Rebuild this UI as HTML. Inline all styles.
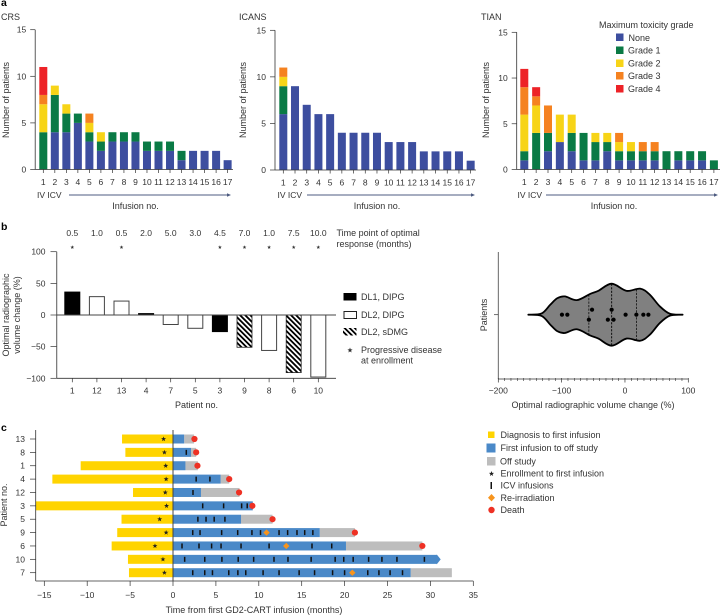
<!DOCTYPE html>
<html lang="en">
<head>
<meta charset="utf-8">
<title>GD2-CART clinical outcomes</title>
<style>
html,body{margin:0;padding:0;background:#fff;}
svg{display:block;font-family:"Liberation Sans",Arial,sans-serif;fill:#333;}
text{font-size:9px;}
.panel{font-weight:bold;font-size:10.5px;fill:#000;}
.tick{font-size:8.5px;}
.ivicv{font-size:8.5px;}
</style>
</head>
<body>
<svg id="fig" xmlns="http://www.w3.org/2000/svg" width="722" height="615" viewBox="0 0 722 615">
<defs>
<pattern id="hatch" patternUnits="userSpaceOnUse" width="3.6" height="3.6" patternTransform="rotate(-45)">
<rect width="3.6" height="3.6" fill="#fff"/>
<rect width="1.8" height="3.6" fill="#000"/>
</pattern>
</defs>
<text class="panel" x="1" y="6">a</text>
<text class="panel" x="1" y="230">b</text>
<text class="panel" x="1" y="431">c</text>

<text x="1" y="20">CRS</text>
<text x="239" y="20">ICANS</text>
<text x="481" y="20">TIAN</text>

<text transform="translate(9,100) rotate(-90)" text-anchor="middle">Number of patients</text>
<text transform="translate(246,100) rotate(-90)" text-anchor="middle">Number of patients</text>
<text transform="translate(489,100) rotate(-90)" text-anchor="middle">Number of patients</text>

<text class="ivicv" x="37" y="198">IV ICV</text>
<text class="ivicv" x="277.500" y="198">IV ICV</text>
<text class="ivicv" x="517.500" y="198">IV ICV</text>
<g stroke="#4d5b80" stroke-width="1" fill="#4d5b80">
<line x1="69" y1="195" x2="229" y2="195"/><path d="M231 195l-4-1.800v3.600z" stroke="none"/>
<line x1="307" y1="195" x2="473" y2="195"/><path d="M475 195l-4-1.800v3.600z" stroke="none"/>
<line x1="546" y1="195" x2="716" y2="195"/><path d="M718 195l-4-1.800v3.600z" stroke="none"/>
</g>
<text x="135.500" y="209" text-anchor="middle">Infusion no.</text>
<text x="377" y="209" text-anchor="middle">Infusion no.</text>
<text x="614" y="209" text-anchor="middle">Infusion no.</text>

<g>
<text x="599" y="28">Maximum toxicity grade</text>
<rect x="616" y="33.500" width="7.500" height="7.500" fill="#3d4e9f"/>
<text x="628.500" y="41">None</text>
<rect x="616" y="46.500" width="7.500" height="7.500" fill="#0a7a45"/>
<text x="628" y="53.500">Grade 1</text>
<rect x="616" y="59.500" width="7.500" height="7.500" fill="#f7d417"/>
<text x="628" y="66.500">Grade 2</text>
<rect x="616" y="72" width="7.500" height="7.500" fill="#f58220"/>
<text x="628" y="79">Grade 3</text>
<rect x="616" y="85" width="7.500" height="7.500" fill="#ed2227"/>
<text x="628" y="92">Grade 4</text>
</g>

<text x="336.500" y="236">Time point of optimal</text>
<text x="336.500" y="247">response (months)</text>
<text transform="translate(9,315) rotate(-90)" text-anchor="middle">Optimal radiographic</text>
<text transform="translate(20,315) rotate(-90)" text-anchor="middle">volume change (%)</text>
<text x="196.500" y="408" text-anchor="middle">Patient no.</text>

<g>
<rect x="343.500" y="293" width="13" height="7.500" fill="#000"/>
<text x="361" y="300">DL1, DIPG</text>
<rect x="344" y="311.500" width="12.500" height="7" fill="#fff" stroke="#222" stroke-width="1"/>
<text x="361" y="318">DL2, DIPG</text>
<rect x="343" y="328" width="13.500" height="7.500" fill="url(#hatch)"/>
<text x="361" y="335">DL2, sDMG</text>
<polygon points="350,347.500 350.700,349.400 352.600,349.400 351.100,350.600 351.600,352.500 350,351.400 348.400,352.500 348.900,350.600 347.400,349.400 349.300,349.400" fill="#333"/>
<text x="361" y="353">Progressive disease</text>
<text x="361" y="363.500">at enrollment</text>
</g>

<text transform="translate(487,315) rotate(-90)" text-anchor="middle">Patients</text>
<text x="593" y="408" text-anchor="middle">Optimal radiographic volume change (%)</text>

<text transform="translate(7,505) rotate(-90)" text-anchor="middle">Patient no.</text>
<text x="254" y="613" text-anchor="middle">Time from first GD2-CART infusion (months)</text>

<g>
<rect x="488" y="431.500" width="6.500" height="6.500" fill="#ffd400"/>
<text x="500.500" y="438">Diagnosis to first infusion</text>
<rect x="486.500" y="443.500" width="9" height="9" fill="#4a89c8"/>
<text x="500.500" y="451">First infusion to off study</text>
<rect x="487" y="457" width="8.500" height="8.500" fill="#bdbdbd"/>
<text x="500" y="464.500">Off study</text>
<polygon points="491.500,471 492.200,472.900 494.100,472.900 492.600,474.100 493.100,476 491.500,474.900 489.900,476 490.400,474.100 488.900,472.900 490.800,472.900" fill="#222"/>
<text x="500.500" y="476.500">Enrollment to first infusion</text>
<rect x="490.500" y="482" width="1.500" height="7" fill="#111"/>
<text x="500.500" y="488.500">ICV infusions</text>
<polygon points="491.500,494 495,497.700 491.500,501.400 488,497.700" fill="#f7941d"/>
<text x="500.500" y="501">Re-irradiation</text>
<circle cx="491.500" cy="510" r="3.200" fill="#ee3124"/>
<text x="500.500" y="513">Death</text>
</g>
</svg>
<script>
// ---- Panel a: toxicity counts per infusion ----
const infusionLabels = ['1','2','3','4','5','6','7','8','9','10','11','12','13','14','15','16','17'];
const countTicks = [0,5,10,15];
const gradeNames = ['none','grade-1','grade-2','grade-3','grade-4'];
const gradeColors = ['#3d4e9f','#0a7a45','#f7d417','#f58220','#ed2227'];
const crsNone   = [0,4,4,5,3,2,3,3,3,2,2,2,1,2,2,2,1];
const crsGrade1 = [4,4,2,1,1,1,1,1,1,1,1,1,1,0,0,0,0];
const crsGrade2 = [3,1,1,0,1,1,0,0,0,0,0,0,0,0,0,0,0];
const crsGrade3 = [1,0,0,0,1,0,0,0,0,0,0,0,0,0,0,0,0];
const crsGrade4 = [3,0,0,0,0,0,0,0,0,0,0,0,0,0,0,0,0];
const icansNone   = [6,9,7,6,6,4,4,4,4,3,3,3,2,2,2,2,1];
const icansGrade1 = [3,0,0,0,0,0,0,0,0,0,0,0,0,0,0,0,0];
const icansGrade2 = [1,0,0,0,0,0,0,0,0,0,0,0,0,0,0,0,0];
const icansGrade3 = [1,0,0,0,0,0,0,0,0,0,0,0,0,0,0,0,0];
const icansGrade4 = [0,0,0,0,0,0,0,0,0,0,0,0,0,0,0,0,0];
const tianNone   = [1,0,2,3,2,1,1,2,1,1,1,1,0,1,1,1,0];
const tianGrade1 = [1,4,2,0,2,3,2,1,1,1,1,1,2,1,1,1,1];
const tianGrade2 = [4,3,0,3,2,0,1,1,1,1,0,0,0,0,0,0,0];
const tianGrade3 = [3,1,3,0,0,0,0,0,1,0,1,1,0,0,0,0,0];
const tianGrade4 = [2,1,0,0,0,0,0,0,0,0,0,0,0,0,0,0,0];

// ---- Panel b: waterfall ----
const patientOrder = ['1','12','13','4','7','5','3','9','8','6','10'];
const volumeChange = [37,29,22,3,-15,-21,-27,-51,-56,-91,-98];
const doseGroup = ['dl1','dl2','dl2','dl1','dl2','dl2','dl1','sdmg','dl2','sdmg','dl2'];
const responseMonths = ['0.5','1.0','0.5','2.0','5.0','3.0','4.5','7.0','1.0','7.5','10.0'];
const progressiveAtEnrollment = [1,0,1,0,0,0,1,1,1,1,1];
const volumeTicks = [100,50,0,-50,-100];

// ---- Panel b: violin ----
const violinGridValues = [-152.6,-131.6,-118,-107,-95,-76,-55,-42,-21,2.6,24,39,55,71,91];
const violinDensity = [0,4,32,53,59,47,67,77,100,77,84,65,27,3,0];
const violinPoints = [-99.5,-91,-52,-57,-21,-27,-18,1,18,29,37];
const violinPointRows = [0,0,1,-1,1,-1,-1,0,0,0,0];
const violinQuartiles = [-57,-21,18];
const violinTicks = [-200,-100,0,100];
const violinMinorTicks = [-190,-180,-170,-160,-150,-140,-130,-120,-110,-90,-80,-70,-60,-50,-40,-30,-20,-10,10,20,30,40,50,60,70,80,90];

// ---- Panel c: swimmer plot ----
const swimPatients = ['13','8','1','4','12','3','5','9','6','10','7'];
const diagnosisStart = [-5.94,-5.55,-10.76,-14.06,-4.66,-16,-6,-6.5,-7.15,-5.25,-5.13];
const enrollmentTime = [-1.1,-1,-0.85,-0.8,-0.9,-0.75,-1.55,-0.8,-2.1,-1.17,-1];
const offStudyTime = [1.3,2.1,1.45,5.55,3.26,9.3,7.93,17.1,20.16,31.2,27.7];
const followUpEnd = [2.45,2.7,2.9,6.55,7.75,9.3,11.6,21.2,29.06,31.2,32.5];
const deathTime = [2.5,2.7,2.85,6.55,7.7,9.25,11.6,21.2,29.06,null,null];
const ongoingFlag = [0,0,0,0,0,0,0,0,0,1,0];
const reirradiationTime = [null,null,null,null,null,null,null,10.9,13.2,null,20.9];
const icv13 = [];
const icv8 = [1.55];
const icv1 = [];
const icv4 = [2.7,4.3];
const icv12 = [2.33];
const icv3 = [3.46,5.9,8,8.65];
const icv5 = [2.9,3.85,4.8,6.05];
const icv9 = [2.3,3.15,5.67,7.54,9.2,10.2,12.36,13.36,14.45,15.35,16.3];
const icv6 = [1.05,3.03,4.5,5.6,7.93,11.2,16.2,18.5];
const icv10 = [1.36,3.7,5.7,7.6,9.4,11.77,13.4,16.1,18.9,19.9,21,22.8,24.35,26.1,29.3];
const icv7 = [2.3,3.7,4.6,6.5,7.56,8.48,10.5,12.36,14.7,16.5,18.6,20,22.7,24,25.3,26.75];
const icvTimes = [icv13,icv8,icv1,icv4,icv12,icv3,icv5,icv9,icv6,icv10,icv7];
const timeTicks = [-15,-10,-5,0,5,10,15,20,25,30,35];

const NS = 'http://www.w3.org/2000/svg';
const fig = document.getElementById('fig');
function mk(parent, tag, attrs, txt) {
  const e = document.createElementNS(NS, tag);
  for (const k in attrs) e.setAttribute(k, attrs[k]);
  if (txt !== undefined) e.textContent = txt;
  parent.appendChild(e);
  return e;
}
function linear(d0, d1, r0, r1) { return v => r0 + (v - d0) * (r1 - r0) / (d1 - d0); }
function minus(v) { return String(v).replace('-', '\u2212'); }
function starPoints(cx, cy, r) {
  const p = [];
  for (let i = 0; i < 10; i++) {
    const a = -Math.PI / 2 + i * Math.PI / 5, q = i % 2 ? r * 0.42 : r;
    p.push((cx + q * Math.cos(a)).toFixed(2) + ',' + (cy + q * Math.sin(a)).toFixed(2));
  }
  return p.join(' ');
}
function line(parent, x1, y1, x2, y2, stroke, w) {
  return mk(parent, 'line', {x1, y1, x2, y2, stroke, 'stroke-width': w});
}

// ---- stacked bar panels ----
function stackedPanel(name, cfg, grades) {
  const g = mk(fig, 'g', {});
  
  
  const y = linear(0, 15, cfg.y0, cfg.y15);
  const x = i => cfg.x1 + i * cfg.step;
  infusionLabels.forEach((lab, i) => {
    let base = 0;
    grades.forEach((arr, s) => {
      const v = arr[i];
      if (!v) return;
      const r = mk(g, 'rect', {x: x(i) - 4, y: y(base + v), width: 8, height: y(base) - y(base + v), fill: gradeColors[s]});
      
      
      base += v;
    });
    const t = line(g, x(i), cfg.y0, x(i), cfg.y0 + 3.5, '#333', 0.7);
    
    
    const tl = mk(g, 'text', {class: 'tick', x: x(i), y: cfg.y0 + 15.5, 'text-anchor': 'middle'}, lab);
    
    
  });
  const ax = line(g, cfg.ax, cfg.y15, cfg.ax, cfg.y0, '#333', 0.8);
  
  
  const bx = line(g, cfg.ax, cfg.y0, cfg.axEnd, cfg.y0, '#333', 0.8);
  
  
  countTicks.forEach(v => {
    const t = line(g, cfg.ax - 5, y(v), cfg.ax, y(v), '#333', 0.7);
    
    
    const tl = mk(g, 'text', {class: 'tick', x: cfg.ax - 9, y: y(v) + 3, 'text-anchor': 'end'}, v);
    
    
  });
}
stackedPanel('crs', {ax: 35.2, axEnd: 233, y0: 169.5, y15: 29.7, x1: 43.3, step: 11.52}, [crsNone, crsGrade1, crsGrade2, crsGrade3, crsGrade4]);
stackedPanel('icans', {ax: 275, axEnd: 476, y0: 170, y15: 30.3, x1: 283.3, step: 11.71}, [icansNone, icansGrade1, icansGrade2, icansGrade3, icansGrade4]);
stackedPanel('tian', {ax: 516.7, axEnd: 720, y0: 169.5, y15: 32.3, x1: 524.3, step: 11.85}, [tianNone, tianGrade1, tianGrade2, tianGrade3, tianGrade4]);

// ---- waterfall ----
(function () {
  const g = mk(fig, 'g', {});
  
  
  const y = linear(-100, 100, 378.3, 251.7);
  const x = i => 72.3 + i * 24.6;
  patientOrder.forEach((p, i) => {
    const v = volumeChange[i], top = y(Math.max(v, 0)), h = Math.abs(y(v) - y(0)), grp = doseGroup[i];
    const attrs = grp === 'dl1' ? {fill: '#000'} : grp === 'sdmg' ? {fill: 'url(#hatch)', stroke: '#222', 'stroke-width': 0.8} : {fill: '#fff', stroke: '#444', 'stroke-width': 1};
    const inset = grp === 'dl1' ? 0 : 0.5;
    const r = mk(g, 'rect', Object.assign({x: x(i) - 8 + inset, y: top, width: 16 - 2 * inset, height: h}, attrs));
    
    
    const t = line(g, x(i), 378.3, x(i), 382.3, '#333', 0.7);
    
    
    const tl = mk(g, 'text', {class: 'tick', x: x(i), y: 393.3, 'text-anchor': 'middle'}, p);
    
    
    const rl = mk(g, 'text', {class: 'tick', x: x(i), y: 236, 'text-anchor': 'middle'}, responseMonths[i]);
    
    
    if (progressiveAtEnrollment[i]) {
      const s = mk(g, 'polygon', {points: starPoints(x(i), 247.3, 2), fill: '#333'});
      
      
    }
  });
  const ax = line(g, 56.7, 251.7, 56.7, 378.3, '#666', 1.1);
  
  
  const bx = line(g, 56.7, 378.3, 336, 378.3, '#333', 0.8);
  
  
  const zx = line(g, 56.7, y(0), 336, y(0), '#444', 0.9);
  
  
  volumeTicks.forEach(v => {
    const t = line(g, 50.5, y(v), 56.7, y(v), '#333', 0.7);
    
    
    const tl = mk(g, 'text', {class: 'tick', x: 45.5, y: y(v) + 3, 'text-anchor': 'end'}, minus(v));
    
    
  });
})();

// ---- violin ----
(function () {
  const g = mk(fig, 'g', {});
  
  
  const x = linear(-200, 100, 498.3, 688.3);
  const cy = 314.7, dScale = 31 / 100;
  function halfAt(v) {
    for (let i = 0; i < violinGridValues.length - 1; i++) {
      if (v >= violinGridValues[i] && v <= violinGridValues[i + 1]) {
        const t = (v - violinGridValues[i]) / (violinGridValues[i + 1] - violinGridValues[i]);
        return (violinDensity[i] + t * (violinDensity[i + 1] - violinDensity[i])) * dScale;
      }
    }
    return 0;
  }
  function spline(pts) {
    let d = 'M' + pts[0][0].toFixed(2) + ' ' + pts[0][1].toFixed(2);
    for (let i = 0; i < pts.length - 1; i++) {
      const a = pts[Math.max(i - 1, 0)], b = pts[i], c = pts[i + 1], e = pts[Math.min(i + 2, pts.length - 1)];
      d += 'C' + (b[0] + (c[0] - a[0]) / 6).toFixed(2) + ' ' + (b[1] + (c[1] - a[1]) / 6).toFixed(2) + ' ' +
        (c[0] - (e[0] - b[0]) / 6).toFixed(2) + ' ' + (c[1] - (e[1] - b[1]) / 6).toFixed(2) + ' ' +
        c[0].toFixed(2) + ' ' + c[1].toFixed(2);
    }
    return d;
  }
  const upper = violinGridValues.map((v, i) => [x(v), cy - violinDensity[i] * dScale]);
  const lower = violinGridValues.map((v, i) => [x(v), cy + violinDensity[i] * dScale]).reverse();
  const d = spline(upper) + spline(lower).replace(/^M[^C]*/, '') + 'Z';
  const body = mk(g, 'path', {d, fill: '#808080', stroke: '#000', 'stroke-width': 1.8, 'stroke-linejoin': 'round'});
  
  
  violinQuartiles.forEach((v, i) => {
    const h = halfAt(v);
    const q = line(g, x(v), cy - h, x(v), cy + h, '#000', i === 1 ? 0.9 : 0.7);
    q.setAttribute('stroke-dasharray', '2.2 1.3');
    
    
  });
  violinPoints.forEach((v, i) => {
    const c = mk(g, 'circle', {cx: x(v), cy: cy + violinPointRows[i] * -5, r: 2.1, fill: '#000'});
    
    
  });
  const ax = line(g, 498.3, 252, 498.3, 379, '#555', 0.9);
  
  
  const bx = line(g, 498.3, 379, 688.3, 379, '#333', 0.8);
  
  
  const yt = line(g, 494, cy, 498.3, cy, '#333', 0.7);
  
  
  violinMinorTicks.forEach(v => {
    const t = line(g, x(v), 378, x(v), 381, '#333', 0.6);
    
    
  });
  violinTicks.forEach(v => {
    const t = line(g, x(v), 378, x(v), 382.5, '#333', 0.7);
    
    
    const tl = mk(g, 'text', {class: 'tick', x: x(v), y: 393.3, 'text-anchor': 'middle'}, minus(v));
    
    
  });
})();

// ---- swimmer ----
(function () {
  const g = mk(fig, 'g', {});
  
  
  const x = linear(0, 35, 173, 473.3);
  const y = i => 439 + i * 13.37;
  const H = 9;
  swimPatients.forEach((p, i) => {
    const top = y(i) - H / 2;
    const yb = mk(g, 'rect', {x: x(diagnosisStart[i]), y: top, width: x(0) - x(diagnosisStart[i]), height: H, fill: '#ffd400'});
    
    
    if (followUpEnd[i] > offStudyTime[i]) {
      const gb = mk(g, 'rect', {x: x(offStudyTime[i]), y: top, width: x(followUpEnd[i]) - x(offStudyTime[i]), height: H, fill: '#bdbdbd'});
      
      
    }
    if (ongoingFlag[i]) {
      const e = x(offStudyTime[i]), n = e - 4;
      const arrow = mk(g, 'polygon', {points: [x(0), top, n, top, n, top - 0.5, e, y(i), n, top + H + 0.5, n, top + H, x(0), top + H].join(' '), fill: '#4a89c8'});
      
      
    } else {
      const bb = mk(g, 'rect', {x: x(0), y: top, width: x(offStudyTime[i]) - x(0), height: H, fill: '#4a89c8'});
      
      
    }
    icvTimes[i].forEach(v => {
      const m = mk(g, 'rect', {x: x(v) - 0.75, y: y(i) - 2.5, width: 1.5, height: 5, fill: '#111'});
      
      
    });
    const s = mk(g, 'polygon', {points: starPoints(x(enrollmentTime[i]), y(i), 2.6), fill: '#222'});
    
    
    if (reirradiationTime[i] !== null) {
      const rx = x(reirradiationTime[i]), ry = y(i);
      const dm = mk(g, 'polygon', {points: [rx, ry - 3.2, rx + 3.2, ry, rx, ry + 3.2, rx - 3.2, ry].join(' '), fill: '#f7941d'});
      
      
    }
    if (deathTime[i] !== null) {
      const c = mk(g, 'circle', {cx: x(deathTime[i]), cy: y(i), r: 3.1, fill: '#ee3124'});
      
      
    }
    const t = line(g, 30, y(i), 35.7, y(i), '#333', 0.7);
    
    
    const tl = mk(g, 'text', {class: 'tick', x: 25, y: y(i) + 3, 'text-anchor': 'end'}, p);
    
    
  });
  const ax = line(g, 35.7, 430, 35.7, 581, '#333', 0.8);
  
  
  const bx = line(g, 35.7, 581, 473.3, 581, '#333', 0.8);
  
  
  const zl = line(g, x(0), 430, x(0), 581, '#444', 1);
  
  
  timeTicks.forEach(v => {
    const t = line(g, x(v), 581, x(v), 586, '#333', 0.7);
    
    
    const tl = mk(g, 'text', {class: 'tick', x: x(v), y: 598, 'text-anchor': 'middle'}, minus(v));
    
    
  });
})();
</script>
</body>
</html>
